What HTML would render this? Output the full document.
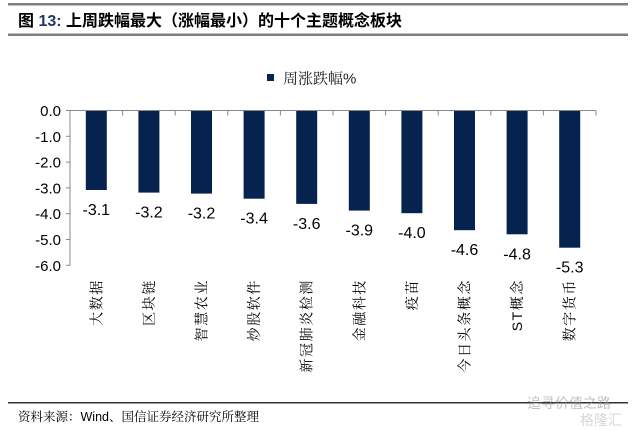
<!DOCTYPE html>
<html><head><meta charset="utf-8"><style>
html,body{margin:0;padding:0;background:#fff;}
svg{display:block;}
text{font-family:"Liberation Sans","Noto Sans CJK SC",sans-serif;}
.s{font-family:"Liberation Sans","Noto Serif CJK SC",serif;}
</style></head><body>
<svg width="636" height="431" viewBox="0 0 636 431" xmlns="http://www.w3.org/2000/svg">
<rect x="8" y="3" width="620" height="2.5" fill="#7f7f7f"/>
<text x="18" y="26" font-size="16" font-weight="bold" fill="#000">图 <tspan fill="#1f3864">13:</tspan> 上周跌幅最大（涨幅最小）的十个主题概念板块</text>
<rect x="8" y="33.5" width="620" height="2.5" fill="#7f7f7f"/>
<rect x="267" y="74" width="7" height="7" fill="#06234f"/>
<text class="s" x="283" y="83.5" font-size="15" fill="#222">周涨跌幅%</text>
<g stroke="#888" stroke-width="1" fill="none">
<line x1="70" y1="110.5" x2="70" y2="265.5"/>
<line x1="70" y1="110.5" x2="596" y2="110.5"/>
<line x1="66" y1="110.5" x2="70" y2="110.5"/>
<line x1="66" y1="136.3" x2="70" y2="136.3"/>
<line x1="66" y1="162.1" x2="70" y2="162.1"/>
<line x1="66" y1="187.9" x2="70" y2="187.9"/>
<line x1="66" y1="213.7" x2="70" y2="213.7"/>
<line x1="66" y1="239.5" x2="70" y2="239.5"/>
<line x1="66" y1="265.3" x2="70" y2="265.3"/>
<line x1="122.6" y1="110.5" x2="122.6" y2="115.5"/>
<line x1="175.2" y1="110.5" x2="175.2" y2="115.5"/>
<line x1="227.8" y1="110.5" x2="227.8" y2="115.5"/>
<line x1="280.4" y1="110.5" x2="280.4" y2="115.5"/>
<line x1="333" y1="110.5" x2="333" y2="115.5"/>
<line x1="385.6" y1="110.5" x2="385.6" y2="115.5"/>
<line x1="438.2" y1="110.5" x2="438.2" y2="115.5"/>
<line x1="490.8" y1="110.5" x2="490.8" y2="115.5"/>
<line x1="543.4" y1="110.5" x2="543.4" y2="115.5"/>
<line x1="596" y1="110.5" x2="596" y2="115.5"/>
</g>
<g font-size="15" fill="#000" text-anchor="end">
<text x="61" y="116">0.0</text>
<text x="61" y="141.8">-1.0</text>
<text x="61" y="167.6">-2.0</text>
<text x="61" y="193.4">-3.0</text>
<text x="61" y="219.2">-4.0</text>
<text x="61" y="245">-5.0</text>
<text x="61" y="270.8">-6.0</text>
</g>
<g fill="#06234f">
<rect x="85.8" y="111" width="21" height="79"/>
<rect x="138.4" y="111" width="21" height="81.6"/>
<rect x="191" y="111" width="21" height="82.6"/>
<rect x="243.6" y="111" width="21" height="87.7"/>
<rect x="296.2" y="111" width="21" height="92.9"/>
<rect x="348.8" y="111" width="21" height="99.6"/>
<rect x="401.4" y="111" width="21" height="102.2"/>
<rect x="454" y="111" width="21" height="119.2"/>
<rect x="506.6" y="111" width="21" height="123.3"/>
<rect x="559.2" y="111" width="21" height="136.7"/>
</g>
<g font-size="16" fill="#000" text-anchor="middle">
<text x="96.3" y="215">-3.1</text>
<text x="148.9" y="217.6">-3.2</text>
<text x="201.5" y="218.6">-3.2</text>
<text x="254.1" y="223.7">-3.4</text>
<text x="306.7" y="228.9">-3.6</text>
<text x="359.3" y="235.6">-3.9</text>
<text x="411.9" y="238.2">-4.0</text>
<text x="464.5" y="255.2">-4.6</text>
<text x="517.1" y="259.3">-4.8</text>
<text x="569.7" y="272.7">-5.3</text>
</g>
<g class="s" font-size="14" fill="#000" text-anchor="end" letter-spacing="1.6">
<text class="s" transform="translate(101.3,279) rotate(-90)">大数据</text>
<text class="s" transform="translate(153.9,279) rotate(-90)">区块链</text>
<text class="s" transform="translate(206.5,279) rotate(-90)">智慧农业</text>
<text class="s" transform="translate(259.1,279) rotate(-90)">炒股软件</text>
<text class="s" transform="translate(311.7,279) rotate(-90)">新冠肺炎检测</text>
<text class="s" transform="translate(364.3,279) rotate(-90)">金融科技</text>
<text class="s" transform="translate(416.9,279) rotate(-90)">疫苗</text>
<text class="s" transform="translate(469.5,279) rotate(-90)">今日头条概念</text>
<text class="s" transform="translate(522.1,279) rotate(-90)">ST概念</text>
<text class="s" transform="translate(574.7,279) rotate(-90)">数字货币</text>
</g>
<rect x="8" y="402" width="620" height="1.5" fill="#333"/>
<text class="s" x="18" y="421" font-size="12.5" fill="#000">资料来源：Wind、国信证券经济研究所整理</text>
<text x="527" y="408" font-size="14" fill="#999" opacity="0.6">追寻价值之路</text>
<text x="580" y="425" font-size="14" fill="#bbb" opacity="0.6">格隆汇</text>
</svg>
</body></html>
